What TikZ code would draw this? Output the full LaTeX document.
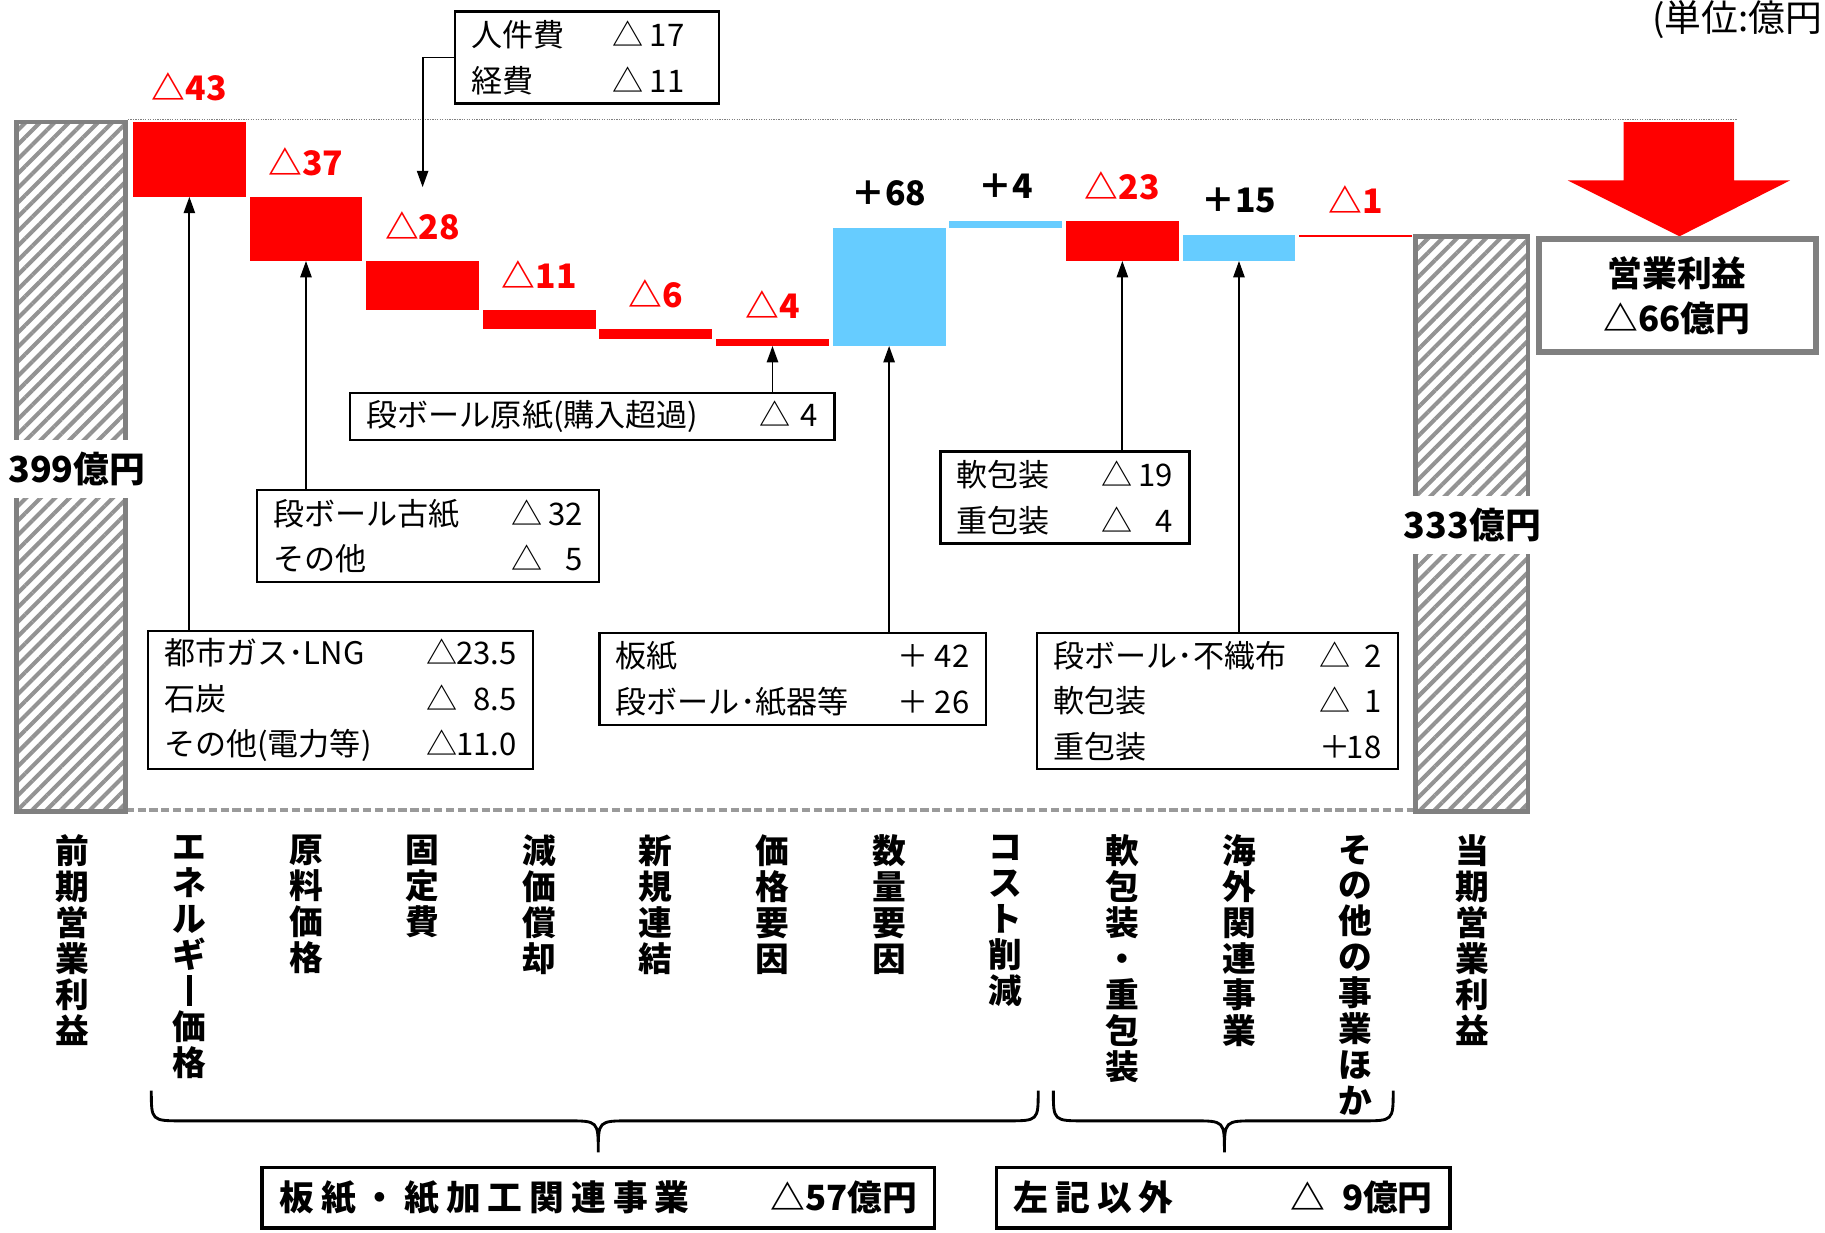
\documentclass[tikz,border=0pt]{standalone}
\usepackage{fontspec}
\setmainfont{Noto Sans CJK JP}
\usetikzlibrary{arrows.meta,patterns.meta}

\definecolor{barred}{RGB}{255,0,0}
\definecolor{barblue}{RGB}{102,204,255}
\definecolor{framegray}{RGB}{128,128,128}

% stack the characters of a label one under another
\def\vstackend{}
\def\vstack#1{\expandafter\vstackfirst#1\vstackend}
\def\vstackfirst#1{#1\vstacknext}
\def\vstacknext#1{\ifx#1\vstackend\else\\#1\expandafter\vstacknext\fi}
\newcommand\vbar{\rule[-0.08em]{0.13em}{0.92em}}
% sign and right aligned amount
\newcommand\amt[3][1.3em]{#2\makebox[#1][r]{#3}}

\begin{document}
\begin{tikzpicture}[x=0.02cm,y=-0.02cm,
  hatchbox/.style={draw=framegray,line width=2.2pt,pattern={Lines[angle=45,distance=5pt,line width=2pt]},pattern color=framegray!85},
  amount/.style={font=\fontsize{16.5}{18}\selectfont\bfseries},
  profit/.style={fill=white,inner xsep=1pt,inner ysep=6pt,font=\fontsize{17.5}{20}\selectfont\bfseries},
  callout/.style={draw,line width=1.1pt,fill=white,anchor=north west,inner xsep=0.28cm,inner ysep=0pt,align=left,font=\fontsize{15.2}{22.2}\selectfont},
  pointer/.style={line width=0.9pt,-{Triangle[length=8pt,width=5.5pt]}},
  category/.style={anchor=north,inner sep=0pt,align=center,font=\fontsize{16.5}{17.6}\selectfont\bfseries},
  group/.style={draw,line width=1.7pt,minimum height=1.04cm,inner xsep=0.3cm,align=left,font=\fontsize{17}{19}\selectfont\bfseries},
  brace/.style={line width=1.4pt}]
\useasboundingbox (0,0) rectangle (1568,1059);

\node[anchor=base east,inner sep=0pt,font=\fontsize{18}{20}\selectfont] (unit) at (1566,27) {(単位:億円};

% guide lines
\draw[framegray,line width=0.5pt,dash pattern=on 0.6pt off 0.6pt] (110,103) -- (1492,103);
\draw[framegray!80,line width=1.6pt,dash pattern=on 4pt off 1.8pt] (108,696) -- (1216,696);

% opening and closing profit
\draw[hatchbox] (14,105) rectangle (108,697);
\draw[hatchbox] (1216,203) rectangle (1313,697);
\node[profit] (open) at (66,403) {399億円};
\node[profit] (close) at (1265,451) {333億円};

% waterfall bars, values in 100 million yen
\foreach \n/\a/\b/\c/\lc/\t in {1/399/356/barred/barred/△43,2/356/319/barred/barred/△37,
    3/319/291/barred/barred/△28,4/291/280/barred/barred/△11,5/280/274/barred/barred/△6,
    6/274/270/barred/barred/△4,7/270/338/barblue/black/＋68,8/338/342/barblue/black/＋4,
    9/342/319/barred/barred/△23,10/319/334/barblue/black/＋15,11/334/333/barred/barred/△1}{
  \fill[\c] ({14+100.2*\n},{105+1.49*(399-\a)}) rectangle ++(97,{1.49*(\a-\b)});
  \coordinate (b\n) at ({62.5+100.2*\n},{105+1.49*(399-min(\a,\b))});
  \node[amount,text=\lc] (v\n) at ({62.5+100.2*\n},{75+1.49*(399-max(\a,\b))}) {\t};
}

% breakdown boxes
\node[callout,text width=3.98cm,minimum height=1.58cm] (fixed) at (390,9)
  {人件費\hfill\amt{△}{17}\rule{0.6em}{0pt}\\経費\hfill\amt{△}{11}\rule{0.6em}{0pt}};
\node[callout,text width=7.76cm,minimum height=0.8cm] (pricebox) at (300,337)
  {段ボール原紙(購入超過)\hfill\amt[0.9em]{△}{4}};
\node[callout,text width=5.32cm,minimum height=1.58cm] (material) at (220,420)
  {段ボール古紙\hfill\amt{△}{32}\\その他\hfill\amt{△}{5}};
\node[callout,text width=6.06cm,minimum height=2.38cm] (energy) at (126,541)
  {都市ガス･LNG\hfill\amt[1.9em]{△}{23.5}\\石炭\hfill\amt[1.9em]{△}{8.5}\\その他(電力等)\hfill\amt[1.9em]{△}{11.0}};
\node[callout,text width=6.08cm,minimum height=1.58cm] (volume) at (514,543)
  {板紙\hfill\amt{＋}{42}\\段ボール･紙器等\hfill\amt{＋}{26}};
\node[callout,text width=3.72cm,minimum height=1.58cm] (packbox) at (807,387)
  {軟包装\hfill\amt{△}{19}\\重包装\hfill\amt{△}{4}};
\node[callout,text width=5.64cm,minimum height=2.34cm] (overseas) at (890,543)
  {段ボール･不織布\hfill\amt[1em]{△}{2}\\軟包装\hfill\amt[1em]{△}{1}\\重包装\hfill\amt[1em]{＋}{18}};

\draw[pointer] (energy.north -| b1) -- (b1);
\draw[pointer] (material.north -| b2) -- (b2);
\draw[pointer,shorten >=0.3cm] (fixed.west) -| (v3.north);
\draw[pointer] (pricebox.north -| b6) -- (b6);
\draw[pointer] (volume.north -| b7) -- (b7);
\draw[pointer] (packbox.north -| b9) -- (b9);
\draw[pointer] (overseas.north -| b10) -- (b10);

% total change
\fill[barred] (1395,105) -- (1490,105) -- (1490,155) -- (1538,155) -- (1443,203) -- (1347,155) -- (1395,155) -- cycle;
\node[draw=framegray,line width=2.8pt,minimum width=4.76cm,minimum height=1.94cm,align=center,
  font=\fontsize{17}{21.6}\selectfont\bfseries] (total) at (1441,254) {営業利益\\△66億円};

% factor names
\foreach \n/\t in {0/前期営業利益,1/エネルギ\vbar 価格,2/原料価格,3/固定費,4/減価償却,5/新規連結,6/価格要因,
    7/数量要因,8/コスト削減,9/軟包装・重包装,10/海外関連事業,11/その他の事業ほか,12/当期営業利益}
  \node[category] (c\n) at ({62.5+100.2*\n},717) {\vstack{\t}};

% segments
\draw[brace] (130,937) .. controls (130,963) .. (157,963) -- (487,963) .. controls (514,963) .. (514,990)
  .. controls (514,963) .. (541,963) -- (865,963) .. controls (892,963) .. (892,937);
\draw[brace] (905,937) .. controls (905,963) .. (932,963) -- (1025,963) .. controls (1052,963) .. (1052,990)
  .. controls (1052,963) .. (1079,963) -- (1170,963) .. controls (1197,963) .. (1197,937);
\node[group,text width=10.96cm] (paper) at (514,1029)
  {{\addfontfeature{LetterSpace=20}板紙・紙加工関連事業}\hfill△57億円};
\node[group,text width=7.2cm] (others) at (1051,1029)
  {{\addfontfeature{LetterSpace=20}左記以外}\hfill△\makebox[1.1em][r]{9}億円};
\end{tikzpicture}
\end{document}
